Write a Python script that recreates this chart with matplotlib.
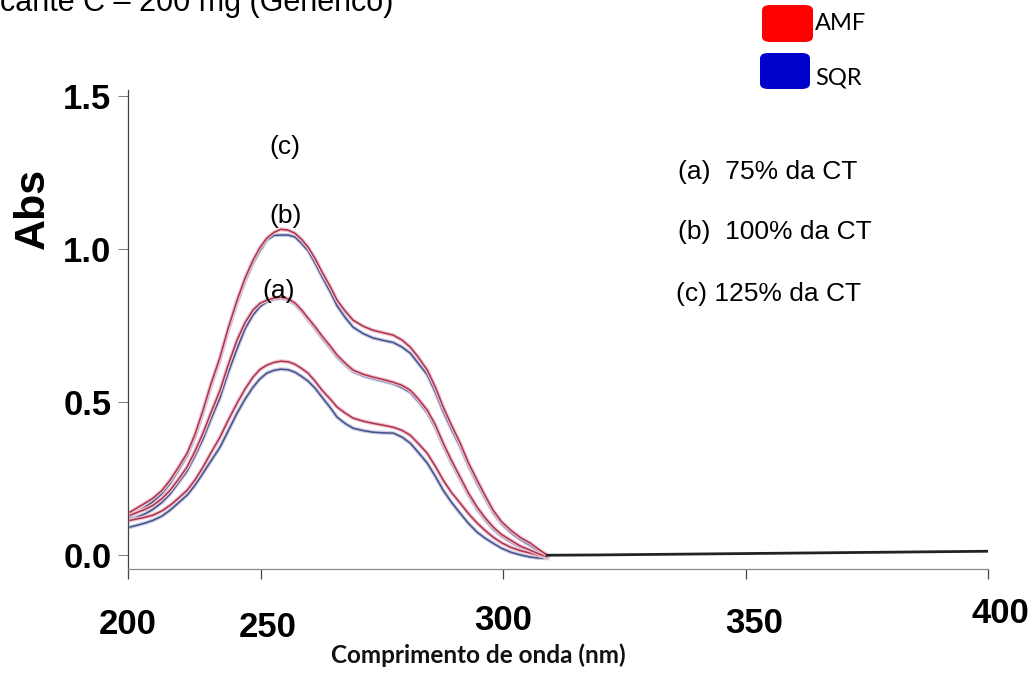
import numpy as np
import matplotlib
matplotlib.use("Agg")
import matplotlib.pyplot as plt
import matplotlib.patheffects as pe
from matplotlib.patches import FancyBboxPatch
from matplotlib.transforms import ScaledTranslation

# wavelength grid (nm)
wl = [200.8, 206.4, 209.4, 212.8, 215.8, 218.8, 222.2, 225.2, 228.2, 231.2, 234.6, 237.6, 241.0,
      244.0, 247.0, 249.6, 251.2, 252.7, 254.1, 255.6, 257.0, 258.3, 259.7, 261.2, 262.6, 264.3,
      265.7, 267.4, 269.0, 271.1, 273.1, 275.2, 277.3, 279.1, 280.8, 282.4, 284.3, 286.0, 287.6,
      289.3, 291.1, 292.8, 294.6, 296.3, 297.9, 299.6, 301.5, 303.5, 305.6, 307.2, 309.1]

# absorbance, AMF (red) and SQR (blue) at the three concentrations
amf_125 = [0.141, 0.170, 0.186, 0.212, 0.245, 0.285, 0.333, 0.395, 0.474, 0.560, 0.647, 0.740, 0.833,
           0.905, 0.964, 1.005, 1.036, 1.055, 1.065, 1.062, 1.052, 1.033, 1.007, 0.968, 0.925, 0.877,
           0.833, 0.797, 0.768, 0.748, 0.735, 0.727, 0.719, 0.703, 0.680, 0.648, 0.605, 0.548, 0.484,
           0.425, 0.366, 0.302, 0.245, 0.193, 0.147, 0.110, 0.082, 0.058, 0.039, 0.020, 0.000]
sqr_125 = [0.125, 0.157, 0.175, 0.202, 0.235, 0.276, 0.325, 0.387, 0.465, 0.552, 0.640, 0.732, 0.825,
           0.896, 0.955, 0.995, 1.030, 1.045, 1.046, 1.046, 1.040, 1.020, 0.995, 0.953, 0.910, 0.860,
           0.815, 0.776, 0.745, 0.724, 0.710, 0.702, 0.695, 0.680, 0.660, 0.628, 0.590, 0.532, 0.470,
           0.412, 0.355, 0.293, 0.235, 0.185, 0.140, 0.104, 0.075, 0.052, 0.032, 0.014, -0.003]
amf_100 = [0.131, 0.150, 0.163, 0.185, 0.212, 0.246, 0.288, 0.340, 0.399, 0.466, 0.539, 0.620, 0.703,
           0.760, 0.801, 0.823, 0.833, 0.840, 0.843, 0.838, 0.824, 0.803, 0.775, 0.746, 0.716, 0.683,
           0.654, 0.627, 0.605, 0.591, 0.582, 0.574, 0.565, 0.555, 0.539, 0.512, 0.474, 0.425, 0.366,
           0.310, 0.255, 0.203, 0.157, 0.121, 0.092, 0.068, 0.049, 0.030, 0.016, 0.005, -0.006]
sqr_100 = [0.115, 0.135, 0.150, 0.173, 0.200, 0.235, 0.275, 0.325, 0.380, 0.445, 0.515, 0.595, 0.675,
           0.740, 0.785, 0.812, 0.828, 0.836, 0.840, 0.834, 0.820, 0.798, 0.770, 0.740, 0.710, 0.677,
           0.648, 0.622, 0.600, 0.586, 0.577, 0.569, 0.560, 0.548, 0.532, 0.504, 0.466, 0.416, 0.358,
           0.302, 0.248, 0.197, 0.150, 0.115, 0.086, 0.063, 0.044, 0.026, 0.012, 0.002, -0.008]
amf_75 = [0.114, 0.124, 0.131, 0.145, 0.163, 0.185, 0.212, 0.246, 0.288, 0.335, 0.386, 0.440, 0.497,
          0.543, 0.582, 0.607, 0.621, 0.630, 0.634, 0.632, 0.624, 0.611, 0.595, 0.568, 0.539, 0.510,
          0.484, 0.464, 0.448, 0.438, 0.431, 0.425, 0.418, 0.408, 0.392, 0.366, 0.333, 0.290, 0.245,
          0.205, 0.170, 0.136, 0.105, 0.080, 0.059, 0.041, 0.026, 0.015, 0.007, 0.000, -0.006]
sqr_75 = [0.092, 0.105, 0.114, 0.128, 0.147, 0.170, 0.196, 0.229, 0.268, 0.308, 0.353, 0.405, 0.464,
          0.510, 0.549, 0.576, 0.595, 0.604, 0.608, 0.606, 0.598, 0.585, 0.569, 0.545, 0.516, 0.482,
          0.451, 0.430, 0.415, 0.407, 0.402, 0.400, 0.399, 0.386, 0.366, 0.337, 0.301, 0.257, 0.212,
          0.173, 0.137, 0.104, 0.075, 0.055, 0.039, 0.023, 0.010, 0.001, -0.006, -0.009, -0.010]

# flat tail where all traces overlap
tail_wl = [309, 320, 340, 360, 380, 400]
tail_abs = [0.000, 0.001, 0.004, 0.007, 0.010, 0.013]

xticks = [200, 250, 300, 350, 400]
yticks = [0.0, 0.5, 1.0, 1.5]

W, H = 1034, 677


def fx(px):
    return px / W


def fy(py):
    return (H - py) / H


# the scanned axis is not linear: 200-250 is squeezed
def fwd(x):
    x = np.asarray(x, float)
    return np.where(x < 250, (x - 200) * 133 / 50, 133 + (x - 250) * 727 / 150)


def inv(y):
    y = np.asarray(y, float)
    return np.where(y < 133, 200 + y * 50 / 133, 250 + (y - 133) * 150 / 727)


lab_font = ["Liberation Sans", "DejaVu Sans"]
cal_font = ["Lato", "DejaVu Sans"]

fig = plt.figure(figsize=(W / 100, H / 100), dpi=100)
ax = fig.add_axes([fx(128), fy(569), fx(988) - fx(128), fy(90) - fy(569)])
ax.set_xscale("function", functions=(fwd, inv))

red = "#a8344f"
blue = "#45508a"
halo_r = [pe.Stroke(linewidth=2.8, foreground="#f2c4cf"), pe.Normal()]
halo_b = [pe.Stroke(linewidth=2.8, foreground="#c8cce4"), pe.Normal()]

for s in (sqr_75, sqr_100, sqr_125):
    ax.plot(wl, s, color=blue, lw=1.1, path_effects=halo_b)
for s in (amf_75, amf_100, amf_125):
    ax.plot(wl, s, color=red, lw=1.1, path_effects=halo_r)
ax.plot(tail_wl, tail_abs, color="#222222", lw=2.0)

ax.set_xlim(200, 400)
ax.set_ylim(-0.045, 1.52)
ax.set_xticks(xticks)
ax.set_yticks(yticks)
ax.set_yticklabels(["0.0", "0.5", "1.0", "1.5"])
ax.tick_params(axis="x", direction="out", length=7, width=0.9, color="#444444", pad=21)
ax.tick_params(axis="y", direction="out", length=7, width=0.7, color="#777777", pad=5)
for lab in ax.get_xticklabels() + ax.get_yticklabels():
    lab.set_family(lab_font)
    lab.set_fontweight("bold")
    lab.set_fontsize(25)

# the pasted x labels in the scan sit a little off their ticks
nudges = [(0, 0), (7, -3), (0, 4), (8, 1), (12, 11)]
for lab, (dx, dy) in zip(ax.get_xticklabels(), nudges):
    lab.set_transform(lab.get_transform() + ScaledTranslation(dx / 100, dy / 100, fig.dpi_scale_trans))

for side in ("top", "right"):
    ax.spines[side].set_visible(False)
ax.spines["left"].set_color("#444444")
ax.spines["left"].set_linewidth(0.9)
ax.spines["bottom"].set_color("#888888")
ax.spines["bottom"].set_linewidth(0.9)

# curve labels
ax.text(255, 1.333, "(c)", ha="center", va="center", fontsize=19, family=lab_font)
ax.text(255, 1.108, "(b)", ha="center", va="center", fontsize=19, family=lab_font)
ax.text(253.7, 0.863, "(a)", ha="center", va="center", fontsize=19, family=lab_font)

fig.text(fx(678), fy(172), "(a)  75% da CT", ha="left", va="center", fontsize=19, family=lab_font)
fig.text(fx(678), fy(232), "(b)  100% da CT", ha="left", va="center", fontsize=19, family=lab_font)
fig.text(fx(676), fy(294), "(c) 125% da CT", ha="left", va="center", fontsize=19, family=lab_font)

# axis titles
fig.text(fx(33), fy(208), "Abs", rotation=90, ha="center", va="center",
         fontsize=31, fontweight="bold", family=lab_font)
fig.text(fx(478), fy(655), "Comprimento de onda (nm)", ha="center", va="center",
         fontsize=17.5, fontweight="bold", family=cal_font, color="#111111")

# title, cut off at the top of the scan
fig.text(fx(0), fy(11), "cante C \u2013 200 mg (Genérico)", ha="left", va="baseline",
         fontsize=22, family=lab_font)

# legend boxes
fig.patches.append(FancyBboxPatch((fx(762), fy(42)), fx(51), 37 / H,
                                  boxstyle="round,pad=0,rounding_size=0.008",
                                  transform=fig.transFigure, facecolor="#ff0000", edgecolor="none"))
fig.patches.append(FancyBboxPatch((fx(760), fy(89)), fx(50), 36 / H,
                                  boxstyle="round,pad=0,rounding_size=0.008",
                                  transform=fig.transFigure, facecolor="#0000cc", edgecolor="none"))
fig.text(fx(815), fy(23), "AMF", ha="left", va="center", fontsize=17, family=cal_font)
fig.text(fx(815), fy(78), "SQR", ha="left", va="center", fontsize=17, family=cal_font)

fig.savefig("out.png", dpi=100)
